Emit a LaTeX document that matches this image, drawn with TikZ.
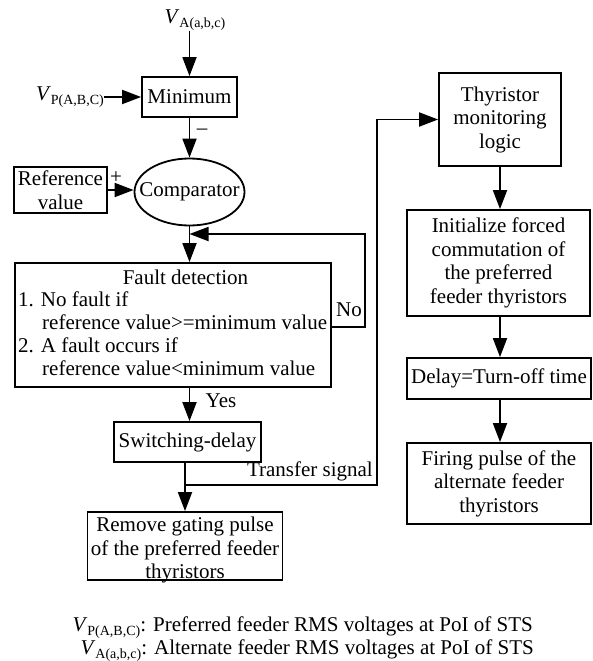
\documentclass[tikz,border=0pt]{standalone}
\usepackage{fontspec}
\setmainfont{Liberation Serif}
\usetikzlibrary{arrows.meta,shapes.geometric}
% italic V with an upright, lowered subscript
\newcommand\volt[1]{\textit{V}\raisebox{-4.5pt}{\fontsize{14}{14}\selectfont #1}}
\begin{document}
\begin{tikzpicture}[x=1pt,y=-1pt,
  every node/.style={font=\fontsize{21}{23.5}\selectfont, inner sep=0pt},
  blk/.style={draw, line width=1.8pt, align=center},
  arr/.style={line width=1.8pt, -{Triangle[length=19pt,width=14pt]}},
  ln/.style={line width=1.8pt}]
\useasboundingbox (0,0) rectangle (592,661);

% left column
\node (vA) at (195,20) {\volt{A(a,b,c)}};
\node[blk, minimum width=95pt, minimum height=40pt] (mn) at (189.5,97) {Minimum};
\node[anchor=east] (vP) at (104,97) {\volt{P(A,B,C)}};
\node[blk, ellipse, minimum width=110pt, minimum height=67pt] (cmp) at (189.5,192) {\makebox[0pt]{Comparator}};
\node[blk, minimum width=93pt, minimum height=46pt, text depth=0pt] (ref) at (60.5,190) {Reference\\value};
\node (plus) at (116,178) {+};
\node (minus) at (202,132) {--};

\node[blk, minimum width=316pt, minimum height=124pt] (fd) at (173,325) {};
\node[anchor=mid] (fd0) at (185.5,282) {Fault detection};
\node[anchor=mid west] (fd1) at (18,304) {1. No fault if};
\node[anchor=mid west] (fd2) at (42,327) {reference value>=minimum value};
\node[anchor=mid west] (fd3) at (18,350) {2. A fault occurs if};
\node[anchor=mid west] (fd4) at (42,373) {reference value<minimum value};

\node[blk, minimum width=147pt, minimum height=40pt] (sw) at (187.5,442) {Switching-delay};
\node[blk, minimum width=195pt, minimum height=68pt] (rm) at (185,546) {};
\node[align=center] (rmt) at (185,550) {Remove gating pulse\\of the preferred feeder\\thyristors};

% right column
\node[blk, minimum width=122pt, minimum height=93pt] (th) at (500,119.5) {Thyristor\\monitoring\\logic};
\node[blk, minimum width=183pt, minimum height=106pt] (ini) at (498.5,263) {Initialize forced\\commutation of\\the preferred\\feeder thyristors};
\node[blk, minimum width=184pt, minimum height=41pt] (dl) at (499,378.5) {Delay=Turn-off time};
\node[blk, minimum width=184pt, minimum height=81pt] (fp) at (499,483.5) {Firing pulse of the\\alternate feeder\\thyristors};

% connectors
\draw[arr] (vA.south -| mn.north) -- (mn.north);
\draw[arr] (vP.east) -- (mn.west);
\draw[arr] (mn.south) -- (cmp.north);
\draw[arr] (ref.east) -- (ref.east -| cmp.west);
\draw[arr] (cmp.south) -- (cmp.south |- fd.north);

\coordinate (fbR) at (365,327);
\coordinate (fbT) at (365,234);
\draw[arr] (fd.east |- fbR) -- (fbR) -- (fbT) -- (fbT -| cmp.south);
\node[anchor=mid] (no) at (349,314) {No};

\draw[arr] (cmp.south |- fd.south) -- (cmp.south |- sw.north);
\node[anchor=mid] (yes) at (221,405) {Yes};

\coordinate (jn) at (185,485);
\coordinate (tr) at (377,485);
\draw[ln] (jn |- sw.south) -- (jn);
\draw[arr] (jn) -- (rm.north);
\draw[arr] (jn) -- (tr) -- (tr |- th.west) -- (th.west);
\node[anchor=mid east] (ts) at (373,474) {Transfer signal};

\draw[arr] (th.south -| 500,0) -- (ini.north -| 500,0);
\draw[arr] (ini.south -| 500,0) -- (dl.north -| 500,0);
\draw[arr] (dl.south -| 500,0) -- (fp.north -| 500,0);

% legend
\node[anchor=mid east] (lg1) at (533,629) {\volt{P(A,B,C)}: Preferred feeder RMS voltages at PoI of STS};
\node[anchor=mid east] (lg2) at (534,652) {\volt{A(a,b,c)}: Alternate feeder RMS voltages at PoI of STS};
\end{tikzpicture}
\end{document}
